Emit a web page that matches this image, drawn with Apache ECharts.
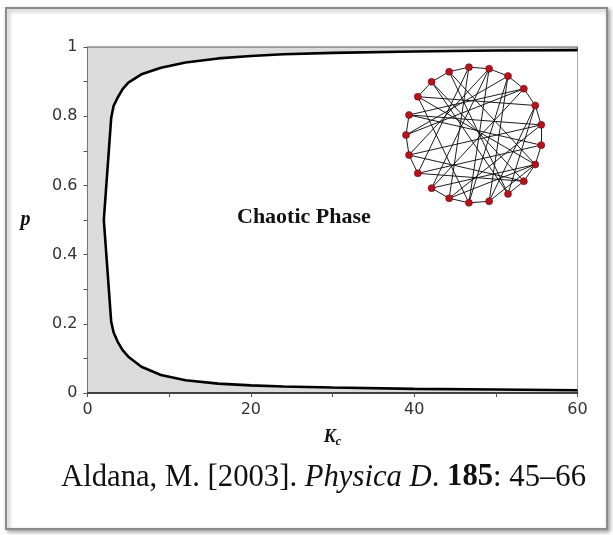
<!DOCTYPE html>
<html>
<head>
<meta charset="utf-8">
<title>Chaotic phase diagram</title>
<script src="https://cdn.jsdelivr.net/npm/echarts@6/dist/echarts.min.js"></script>
<style>
  html, body { margin: 0; padding: 0; background: #fff; }
  #chart { width: 613px; height: 535px; }
</style>
</head>
<body>
<div id="chart"></div>
<script>
// critical curve K_c(p)
let kcUpper = [2, 2.9, 3.2, 3.7, 4.3, 5, 6.6, 9, 12, 16, 20, 24, 30, 40, 50, 60];
let pUpper  = [0.5, 0.795, 0.83, 0.854, 0.878, 0.897, 0.921, 0.94, 0.955, 0.967, 0.974, 0.979, 0.983, 0.987, 0.99, 0.991];
let kcLower = [2, 2.9, 3.2, 3.7, 4.3, 5, 6.6, 9, 12, 16, 20, 24, 30, 40, 50, 60];
let pLower  = [0.5, 0.206, 0.175, 0.148, 0.124, 0.105, 0.076, 0.052, 0.037, 0.027, 0.022, 0.019, 0.016, 0.012, 0.01, 0.008];

let xTicks = [0, 20, 40, 60];
let yTicks = [0, 0.2, 0.4, 0.6, 0.8, 1];

// inset network: 21 nodes on a circle, edges as node index pairs
let nodeCount = 21;
let netEdges = [
  [15,16],[16,17],[17,18],[18,19],[19,20],[20,0],[0,1],[1,2],[2,3],[4,5],[5,6],[6,7],
  [8,9],[9,10],[10,11],[12,13],[13,14],[14,15],
  [15,6],[15,8],[14,1],[16,5],[16,9],[17,4],[17,10],[18,7],[18,11],[19,12],[19,3],
  [20,9],[0,11],[1,6],[1,7],[1,12],[1,4],[2,13],[3,14],[5,17],[6,20],[7,16],[8,0],
  [9,2],[10,18],[11,20],[12,5],[13,3],[4,19],[2,8]
];

let curveLine = [];
for (let i = kcUpper.length - 1; i >= 0; i--) curveLine.push([kcUpper[i], pUpper[i]]);
for (let i = 1; i < kcLower.length; i++) curveLine.push([kcLower[i], pLower[i]]);

let nodes = [];
for (let i = 0; i < nodeCount; i++) nodes.push({ name: 'n' + i });
let links = netEdges.map(function (e) { return { source: 'n' + e[0], target: 'n' + e[1] }; });

let chart = echarts.init(document.getElementById('chart'));
let option = {
  animation: false,
  backgroundColor: '#fff',
  title: {
    left: 61,
    top: 462,
    padding: 0,
    text: '{n|Aldana, M. [2003]. }{i|Physica D}{n|. }{b|185}{n|: 45\u201366}',
    textStyle: {
      fontWeight: 'normal',
      rich: {
        n: { fontFamily: 'Liberation Serif', fontSize: 30.7, color: '#111', fontWeight: 'normal' },
        i: { fontFamily: 'Liberation Serif', fontSize: 30.7, color: '#111', fontWeight: 'normal', fontStyle: 'italic' },
        b: { fontFamily: 'Liberation Serif', fontSize: 30.7, color: '#111', fontWeight: 'bold' }
      }
    }
  },
  graphic: [
    {
      type: 'rect', z: -10,
      shape: { x: 6, y: 8, width: 601, height: 521 },
      style: { fill: '#fff', stroke: '#8c8c8c', lineWidth: 2,
        shadowBlur: 4, shadowOffsetX: 2, shadowOffsetY: 2, shadowColor: 'rgba(0,0,0,0.35)' }
    },
    {
      type: 'text', left: 237, top: 206, z: 10,
      style: { text: 'Chaotic Phase', font: 'bold 22px "Liberation Serif"', fill: '#111' }
    }
  ],
  grid: {
    left: 87.5, right: 35.5, top: 47, bottom: 142,
    show: true, backgroundColor: '#dcdcdc', borderColor: '#555', borderWidth: 1
  },
  xAxis: {
    type: 'value', min: 0, max: 60, interval: 20,
    name: '{k|K}{c|c}', nameLocation: 'middle', nameGap: 33,
    nameTextStyle: {
      rich: {
        k: { fontFamily: 'Liberation Serif', fontSize: 18, fontWeight: 'bold', fontStyle: 'italic', color: '#111' },
        c: { fontFamily: 'Liberation Serif', fontSize: 12, fontWeight: 'bold', fontStyle: 'italic', color: '#111', padding: [10, 0, 0, 0] }
      }
    },
    axisLine: { lineStyle: { color: '#222', width: 1.5 } },
    axisTick: { length: 4, lineStyle: { color: '#555' } },
    minorTick: { show: true, splitNumber: 2, length: 4, lineStyle: { color: '#555' } },
    splitLine: { show: false },
    axisLabel: { margin: 9, fontFamily: 'DejaVu Sans', fontSize: 16, color: '#333',
      formatter: function (v) { return xTicks.indexOf(v) >= 0 ? String(v) : ''; } }
  },
  yAxis: {
    type: 'value', min: 0, max: 1, interval: 0.2,
    name: 'p', nameLocation: 'middle', nameRotate: 0, nameGap: 57,
    nameTextStyle: { fontFamily: 'Liberation Serif', fontSize: 20, fontWeight: 'bold', fontStyle: 'italic', color: '#111' },
    axisLine: { show: true, lineStyle: { color: '#777', width: 1 } },
    axisTick: { show: true, length: 4, lineStyle: { color: '#555' } },
    minorTick: { show: true, splitNumber: 2, length: 4, lineStyle: { color: '#555' } },
    splitLine: { show: false },
    axisLabel: { margin: 10, fontFamily: 'DejaVu Sans', fontSize: 16, color: '#333',
      formatter: function (v) {
        let t = yTicks.find(function (y) { return Math.abs(y - v) < 1e-6; });
        return t === undefined ? '' : String(t);
      } }
  },
  series: [
    {
      // white chaotic region inside the curve
      type: 'custom',
      silent: true,
      z: 1,
      data: curveLine,
      renderItem: function (params, api) {
        if (params.dataIndex !== 0) return;
        let pts = curveLine.map(function (d) { return api.coord(d); });
        return { type: 'polygon', shape: { points: pts }, style: { fill: '#fff' } };
      }
    },
    {
      type: 'line',
      z: 3,
      data: curveLine,
      showSymbol: false,
      lineStyle: { color: '#000', width: 2.6 },
      silent: true
    },
    {
      type: 'graph',
      layout: 'circular',
      left: 406, top: 67, width: 136, height: 136,
      roam: false, silent: true, z: 5,
      symbolSize: 7,
      data: nodes,
      links: links,
      label: { show: false },
      itemStyle: { color: '#b3141e', borderColor: '#6e0a0f', borderWidth: 0.6 },
      lineStyle: { color: '#111', width: 1, opacity: 0.95, curveness: 0 }
    }
  ]
};
chart.setOption(option);
</script>
</body>
</html>
